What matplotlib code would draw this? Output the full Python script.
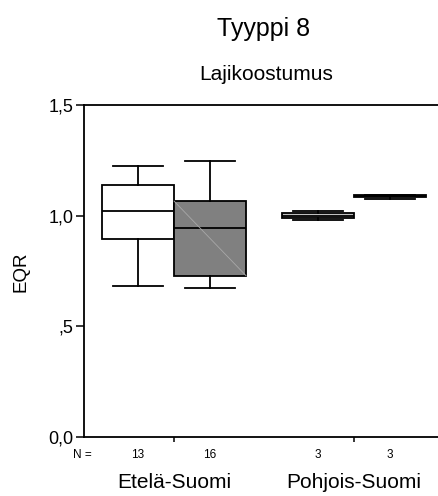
import matplotlib
matplotlib.use("Agg")
import matplotlib.pyplot as plt
from matplotlib import transforms

plt.rcParams['font.family'] = ['Liberation Sans', 'DejaVu Sans']

# ---- data ----
regions = ["Etelä-Suomi", "Pohjois-Suomi"]
counts = [13, 16, 3, 3]
whislo = [0.684, 0.672, 0.981, 1.076]
q1 = [0.895, 0.729, 0.991, 1.085]
med = [1.023, 0.944, 1.000, 1.088]
q3 = [1.140, 1.066, 1.011, 1.092]
whishi = [1.224, 1.249, 1.023, 1.092]
fills = ["#ffffff", "#808080", "#c0c0c0", "#808080"]
yticks = [0.0, 0.5, 1.0, 1.5]
yticklabels = ["0,0", ",5", "1,0", "1,5"]

W, H = 438, 496
fig = plt.figure(figsize=(W / 100, H / 100), dpi=100)
ax = fig.add_axes([84 / W, (H - 437) / H, 360 / W, 332 / H])

positions = [0.8, 1.2, 1.8, 2.2]
stats = []
for i in range(4):
    stats.append(dict(whislo=whislo[i], q1=q1[i], med=med[i], q3=q3[i],
                      whishi=whishi[i], fliers=[]))

bp = ax.bxp(stats, positions=positions, widths=0.4, capwidths=0.278,
            patch_artist=True, showfliers=False,
            boxprops=dict(edgecolor="black", linewidth=1.3),
            medianprops=dict(color="black", linewidth=1.3),
            whiskerprops=dict(color="black", linewidth=1.3),
            capprops=dict(color="black", linewidth=1.3))
for patch, c in zip(bp['boxes'], fills):
    patch.set_facecolor(c)

# faint diagonal artifact inside the grey box
ax.plot([positions[1] - 0.2, positions[1] + 0.2], [q3[1], q1[1]],
        color="#a8a8a8", linewidth=0.6, zorder=3)

ax.set_xlim(0.5, 2.5)
ax.set_ylim(0, 1.5)
ax.set_yticks(yticks)
ax.set_yticklabels(yticklabels, fontsize=13)
ax.set_xticks([1, 2])
ax.set_xticklabels([])
ax.tick_params(axis='y', direction='out', length=5.8, width=1.1, pad=2)
ax.tick_params(axis='x', direction='out', length=3.6, width=1.1)
for s in ax.spines.values():
    s.set_linewidth(1.3)

def fy(px):
    return 1 - px / H

trans = transforms.blended_transform_factory(ax.transData, fig.transFigure)
fig.text(73 / W, fy(458), "N =", fontsize=8.5, ha='left', va='baseline')
for p, n in zip(positions, counts):
    ax.text(p, fy(458), str(n), transform=trans, fontsize=8.5,
            ha='center', va='baseline')
for g, name in zip([1, 2], regions):
    ax.text(g, fy(488), name, transform=trans, fontsize=15,
            ha='center', va='baseline')

fig.text(264 / W, fy(36), "Tyyppi 8", fontsize=18, ha='center', va='baseline')
fig.text(266 / W, fy(80), "Lajikoostumus", fontsize=15, ha='center', va='baseline')
fig.text(21 / W, fy(272), "EQR", fontsize=13.5, rotation=90,
         ha='center', va='center')

fig.savefig("out.png", dpi=100)
